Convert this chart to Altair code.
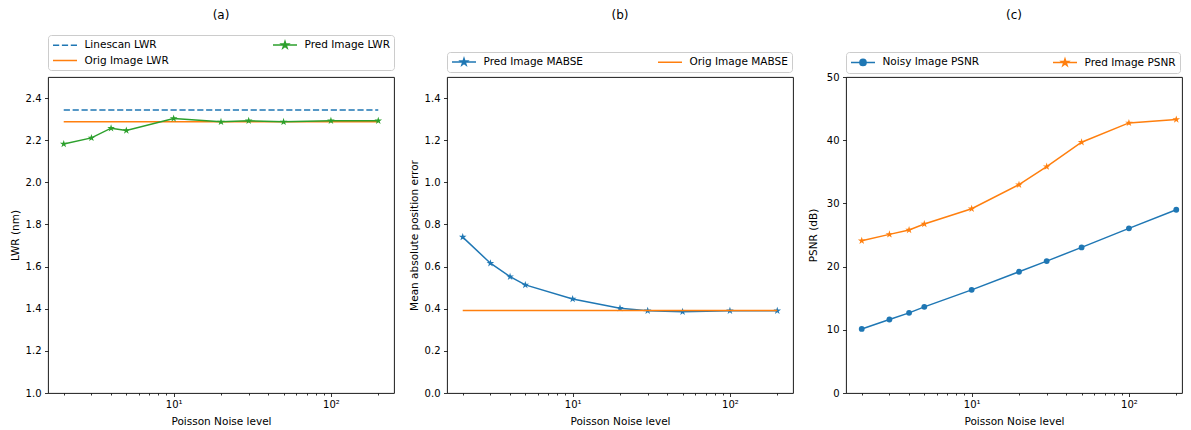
import math
import altair as alt
import pandas as pd

# ---------------- data ----------------
noise = [2, 3, 4, 5, 10, 20, 30, 50, 100, 200]

linescan_lwr = [2.343, 2.343, 2.343, 2.343, 2.343, 2.343, 2.343, 2.343, 2.343, 2.343]
orig_lwr = [2.287, 2.287, 2.287, 2.287, 2.287, 2.287, 2.287, 2.287, 2.287, 2.287]
pred_lwr = [2.182, 2.211, 2.257, 2.246, 2.303, 2.287, 2.292, 2.287, 2.292, 2.292]

pred_mabse = [0.740, 0.616, 0.552, 0.513, 0.446, 0.402, 0.390, 0.386, 0.390, 0.390]
orig_mabse = [0.392, 0.392, 0.392, 0.392, 0.392, 0.392, 0.392, 0.392, 0.392, 0.392]

noisy_psnr = [10.14, 11.63, 12.68, 13.63, 16.32, 19.18, 20.87, 23.04, 26.05, 29.0]
pred_psnr = [24.09, 25.1, 25.78, 26.73, 29.16, 32.96, 35.82, 39.68, 42.74, 43.27]

x_ticks = [2, 3, 4, 5, 6, 7, 8, 9, 10, 20, 30, 40, 50, 60, 70, 80, 90, 100, 200]

BLUE, ORANGE, GREEN = "#1f77b4", "#ff7f0e", "#2ca02c"
FONT = "DejaVu Sans"

LOG_LO, LOG_HI = 0.20103, 2.40103
PX_PER_DECADE = 346 / (LOG_HI - LOG_LO)


# ---------------- marker / legend symbol paths ----------------
def star(cx, R, ratio=0.381966):
    pts = []
    for k in range(10):
        a = -math.pi / 2 + k * math.pi / 5
        r = R if k % 2 == 0 else R * ratio
        pts.append((cx + r * math.cos(a), r * math.sin(a)))
    return "M" + "L".join(f"{x:.3f},{y:.3f}" for x, y in pts) + "Z"


def circle(cx, r):
    return (f"M{cx + r:.3f},0A{r},{r} 0 1,1 {cx - r:.3f},0"
            f"A{r},{r} 0 1,1 {cx + r:.3f},0Z")


# legend symbols: 5 px per path unit, line 24 px long
LINE = "M-1,0L3.8,0"
DASH = "M-1,0L0.24,0M0.78,0L2.02,0M2.56,0L3.8,0"
LEG_STAR = LINE + star(1.4, 0.72)
LEG_CIRCLE = LINE + circle(1.4, 0.62)
PLOT_STAR = star(0, 1)


def make_df(series):
    rows = []
    for name, vals in series:
        for n, v in zip(noise, vals):
            rows.append({"noise": n, "value": v, "series": name})
    return pd.DataFrame(rows)


def panel(series, styles, ydom, yvals, yfmt, ytitle, title, title_off,
          legend_y, col_pad, width=346):
    df = make_df(series)
    hi = LOG_LO + width / PX_PER_DECADE
    x = alt.X(
        "noise:Q",
        scale=alt.Scale(type="log", domain=[10 ** LOG_LO, 10 ** hi],
                        nice=False, zero=False),
        axis=alt.Axis(
            values=x_ticks,
            labelExpr="datum.value == 10 ? '10¹' : (datum.value == 100 ? '10²' : '')",
            tickSize={"condition": {"test": "datum.value == 10 || datum.value == 100",
                                    "value": 3.5}, "value": 2},
            tickWidth=0.8, tickColor="black", labelColor="black",
            labelFontSize=10, labelFont=FONT, labelPadding=3,
            labelOverlap=False, labelFlush=False,
            grid=False, domain=False,
            title="Poisson Noise level", titleFont=FONT, titleFontSize=10.5,
            titleFontWeight="normal", titleColor="black", titlePadding=7,
        ),
    )
    y = alt.Y(
        "value:Q",
        scale=alt.Scale(domain=ydom, nice=False, zero=False),
        axis=alt.Axis(
            values=yvals, format=yfmt, tickSize=3.5, tickWidth=0.8,
            tickColor="black", labelColor="black", labelFontSize=10,
            labelFont=FONT, labelPadding=3.5, grid=False, domain=False,
            minExtent=24, maxExtent=24,
            title=ytitle, titleFont=FONT, titleFontSize=10.5,
            titleFontWeight="normal", titleColor="black", titlePadding=4,
        ),
    )
    layers = []
    for name, _ in series:
        st = styles[name]
        base = alt.Chart(df).transform_filter(alt.datum.series == name)
        line_kw = dict(strokeWidth=1.5, color=st["color"], clip=True)
        if st.get("dash"):
            line_kw["strokeDash"] = st["dash"]
        layers.append(base.mark_line(**line_kw).encode(x=x, y=y))
        if st.get("marker") == "star":
            layers.append(base.mark_point(shape=PLOT_STAR, size=64, filled=True,
                                          color=st["color"], opacity=1, clip=True)
                          .encode(x=x, y=y))
        elif st.get("marker") == "circle":
            layers.append(base.mark_circle(size=34, color=st["color"], opacity=1,
                                           clip=True)
                          .encode(x=x, y=y))
    leg = alt.Legend(
        orient="none", legendX=0, legendY=legend_y, title=None, columns=2,
        columnPadding=col_pad, rowPadding=3.5, padding=4,
        strokeColor="#cccccc", fillColor="white", cornerRadius=3,
        labelFont=FONT, labelFontSize=10.5, labelColor="black",
        labelOffset=20.5, symbolOffset=0, symbolStrokeWidth=1.5, symbolSize=100,
        symbolOpacity=1,
    )
    dom = [name for name, _ in series]
    colors = [styles[s]["color"] for s in dom]
    paths = [styles[s]["legend"] for s in dom]
    legend_layer = (
        alt.Chart(df).transform_filter("false")
        .mark_point(filled=True, opacity=1, strokeWidth=1.5)
        .encode(
            x=x, y=y,
            fill=alt.Fill("series:N", scale=alt.Scale(domain=dom, range=colors), legend=leg),
            stroke=alt.Stroke("series:N", scale=alt.Scale(domain=dom, range=colors), legend=leg),
            shape=alt.Shape("series:N", scale=alt.Scale(domain=dom, range=paths), legend=leg),
        )
    )
    layers.append(legend_layer)
    return alt.layer(*layers).properties(
        width=width, height=316,
        title=alt.Title(title, font=FONT, fontSize=12, fontWeight="normal",
                        color="black", anchor="middle", frame="group",
                        offset=title_off),
    )


styles_a = {
    "Linescan LWR": {"color": BLUE, "dash": [6.2, 2.7], "legend": DASH},
    "Orig Image LWR": {"color": ORANGE, "legend": LINE},
    "Pred Image LWR": {"color": GREEN, "marker": "star", "legend": LEG_STAR},
}
pa = panel(
    [("Linescan LWR", linescan_lwr), ("Orig Image LWR", orig_lwr),
     ("Pred Image LWR", pred_lwr)],
    styles_a,
    [1.0, 2.5], [1.0, 1.2, 1.4, 1.6, 1.8, 2.0, 2.2, 2.4], ".1f", "LWR (nm)", "(a)",
    13, -42, 101,
)

styles_b = {
    "Pred Image MABSE": {"color": BLUE, "marker": "star", "legend": LEG_STAR},
    "Orig Image MABSE": {"color": ORANGE, "legend": LINE},
}
pb = panel(
    [("Pred Image MABSE", pred_mabse), ("Orig Image MABSE", orig_mabse)],
    styles_b,
    [0.0, 1.5], [0.0, 0.2, 0.4, 0.6, 0.8, 1.0, 1.2, 1.4], ".1f",
    "Mean absolute position error", "(b)", 30, -25, 72,
)

styles_c = {
    "Noisy Image PSNR": {"color": BLUE, "marker": "circle", "legend": LEG_CIRCLE},
    "Pred Image PSNR": {"color": ORANGE, "marker": "star", "legend": LEG_STAR},
}
pc = panel(
    [("Noisy Image PSNR", noisy_psnr), ("Pred Image PSNR", pred_psnr)],
    styles_c,
    [0, 50], [0, 10, 20, 30, 40, 50], "d", "PSNR (dB)", "(c)", 30, -25, 70,
    width=336,
)

chart = (
    alt.hconcat(pa, pb, pc, spacing=13)
    .resolve_scale(fill="independent", stroke="independent", shape="independent")
    .resolve_legend(fill="independent", stroke="independent", shape="independent")
    .properties(padding={"left": 1, "top": 0, "right": 0, "bottom": 0})
    .configure(font=FONT)
    .configure_view(stroke="black", strokeWidth=0.9)
)

chart.save("out.html", embed_options={"renderer": "svg", "actions": False})
